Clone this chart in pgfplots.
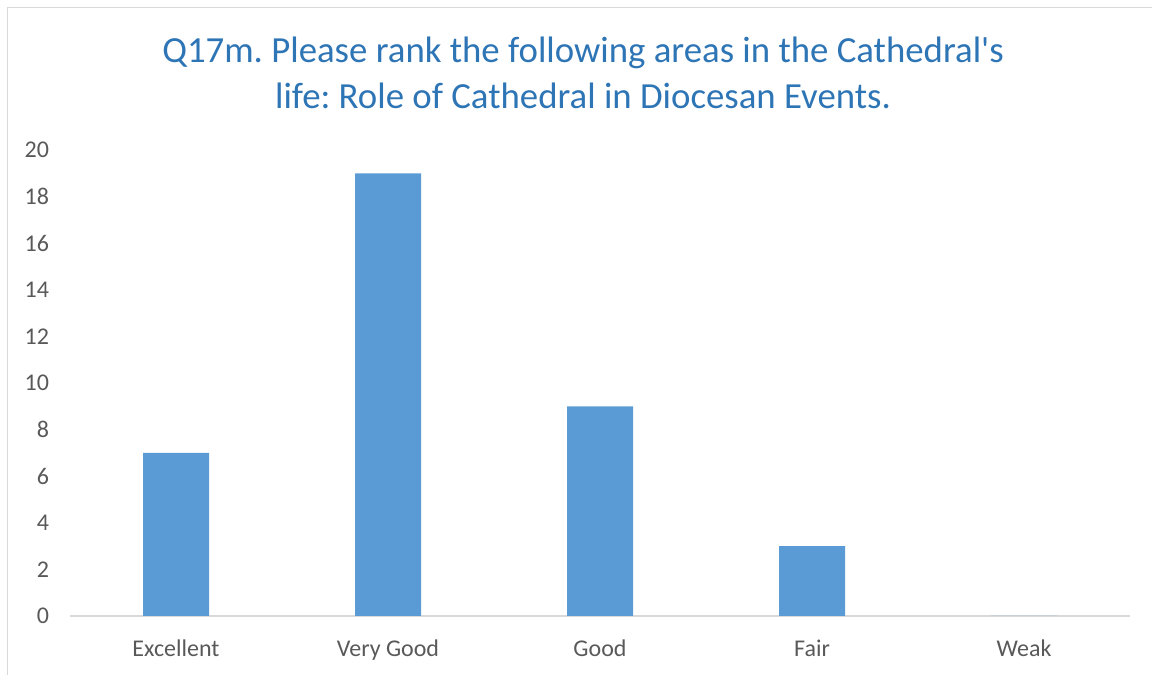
\documentclass[border=0pt]{standalone}
\usepackage{pgfplots}
\pgfplotsset{compat=1.18}
\usepackage{fontspec}
\setmainfont{Carlito}
\frenchspacing
\definecolor{barblue}{HTML}{5B9BD5}
\definecolor{titleblue}{HTML}{2E75B6}
\definecolor{ticktext}{HTML}{595959}
\definecolor{axisgray}{HTML}{D9D9D9}
\begin{document}
\begin{tikzpicture}
\useasboundingbox (0,0) rectangle (576pt,337.5pt);
\clip (0,0) rectangle (576pt,337.5pt);
\draw[axisgray, line width=0.8pt] (3.75pt,-10pt) rectangle (590pt,333.75pt);
\node[align=center, text=titleblue, font=\fontsize{18.4pt}{23pt}\selectfont] at (291.5pt,301pt)
  {Q17m. Please rank the following areas in the Cathedral\textquotesingle s\\life: Role of Cathedral in Diocesan Events.};
\begin{axis}[
  at={(35pt,29.5pt)}, anchor=south west,
  scale only axis, width=530pt, height=233pt,
  xmin=-0.5, xmax=4.5, ymin=0, ymax=20,
  ytick={0,2,...,20},
  xtick={0,1,2,3,4},
  xticklabels={Excellent,Very Good,Good,Fair,Weak},
  axis x line=bottom, axis y line=left,
  x axis line style={axisgray, line width=0.8pt, -},
  y axis line style={draw=none},
  major tick length=0pt,
  tick style={draw=none},
  /pgf/number format/assume math mode=true,
  ticklabel style={font=\fontsize{12pt}{14pt}\selectfont, text=ticktext},
  xticklabel style={yshift=-8.5pt},
  yticklabel style={xshift=-7pt},
  clip=false,
]
\addplot[ybar, bar width=33pt, fill=barblue, draw=none] coordinates {(0,7) (1,19) (2,9) (3,3) (4,0)};
\end{axis}
\end{tikzpicture}
\end{document}
